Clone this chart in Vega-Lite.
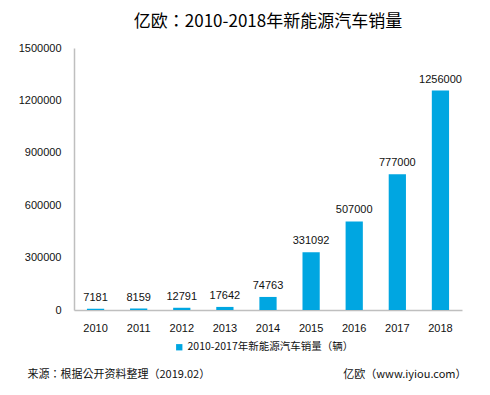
{
  "$schema": "https://vega.github.io/schema/vega-lite/v6.json",
  "width": 388,
  "height": 262,
  "padding": {"left": 18, "top": 13, "right": 5, "bottom": 5},
  "background": "white",
  "title": {
    "text": "亿欧：2010-2018年新能源汽车销量",
    "font": "Noto Sans CJK TC",
    "fontSize": 17,
    "fontWeight": "normal",
    "color": "#000000",
    "anchor": "middle",
    "offset": 11
  },
  "data": {
    "values": [
      {"year": "2010", "sales": 7181, "series": "2010-2017年新能源汽车销量（辆）"},
      {"year": "2011", "sales": 8159, "series": "2010-2017年新能源汽车销量（辆）"},
      {"year": "2012", "sales": 12791, "series": "2010-2017年新能源汽车销量（辆）"},
      {"year": "2013", "sales": 17642, "series": "2010-2017年新能源汽车销量（辆）"},
      {"year": "2014", "sales": 74763, "series": "2010-2017年新能源汽车销量（辆）"},
      {"year": "2015", "sales": 331092, "series": "2010-2017年新能源汽车销量（辆）"},
      {"year": "2016", "sales": 507000, "series": "2010-2017年新能源汽车销量（辆）"},
      {"year": "2017", "sales": 777000, "series": "2010-2017年新能源汽车销量（辆）"},
      {"year": "2018", "sales": 1256000, "series": "2010-2017年新能源汽车销量（辆）"}
    ]
  },
  "encoding": {
    "x": {
      "field": "year",
      "type": "ordinal",
      "scale": {"paddingInner": 0.6, "paddingOuter": 0.3},
      "axis": {
        "title": "来源：根据公开资料整理（2019.02）",
        "titleFont": "Noto Sans CJK TC",
        "titleFontSize": 11,
        "titleFontWeight": "normal",
        "titleColor": "#111111",
        "titleAnchor": "start",
        "titleAlign": "left",
        "titleBaseline": "middle",
        "titleX": -47,
        "titleY": 64,
        "labelAngle": 0,
        "labelFont": "Liberation Sans",
        "labelFontSize": 11,
        "labelColor": "#111111",
        "labelPadding": 12,
        "ticks": false,
        "domainColor": "#BFBFBF",
        "domainWidth": 1.5
      }
    },
    "y": {
      "field": "sales",
      "type": "quantitative",
      "scale": {"domain": [0, 1500000]},
      "axis": {
        "values": [0, 300000, 600000, 900000, 1200000, 1500000],
        "format": "d",
        "grid": false,
        "ticks": false,
        "labelFont": "Liberation Sans",
        "labelFontSize": 11,
        "labelColor": "#111111",
        "labelPadding": 13,
        "domainColor": "#BFBFBF",
        "domainWidth": 1.5,
        "title": "亿欧（www.iyiou.com）",
        "titleAngle": 0,
        "titleFont": "Noto Sans CJK TC",
        "titleFontSize": 11,
        "titleFontWeight": "normal",
        "titleColor": "#111111",
        "titleAlign": "right",
        "titleBaseline": "middle",
        "titleX": 392,
        "titleY": 326
      }
    }
  },
  "layer": [
    {
      "mark": {"type": "bar"},
      "encoding": {
        "color": {
          "field": "series",
          "type": "nominal",
          "scale": {"range": ["#00A6E1"]},
          "legend": {
            "title": null,
            "orient": "none",
            "legendX": 100,
            "legendY": 294,
            "direction": "horizontal",
            "symbolType": "square",
            "symbolSize": 40,
            "symbolStrokeWidth": 0,
            "labelFont": "Noto Sans CJK TC",
            "labelFontSize": 10.5,
            "labelColor": "#111111",
            "labelOffset": 3,
            "labelLimit": 0
          }
        }
      }
    },
    {
      "mark": {"type": "text", "baseline": "alphabetic", "dy": -8, "font": "Liberation Sans", "fontSize": 11, "color": "#111111"},
      "encoding": {
        "text": {"field": "sales", "type": "quantitative", "format": "d"}
      }
    }
  ],
  "config": {"view": {"stroke": null}}
}
